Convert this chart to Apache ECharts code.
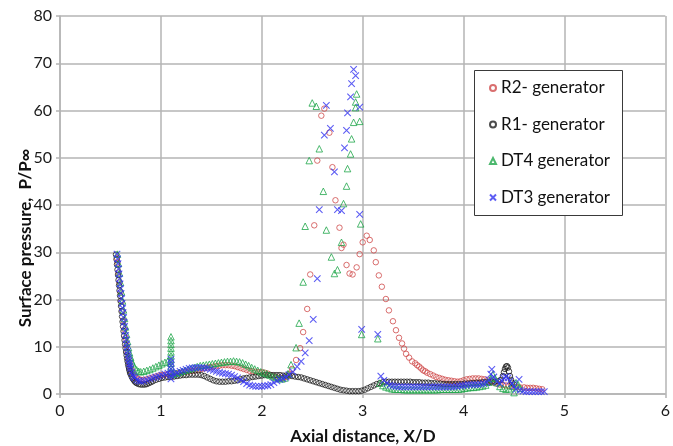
<!DOCTYPE html>
<html>
<head>
<meta charset="utf-8">
<script src="https://cdn.jsdelivr.net/npm/echarts@6/dist/echarts.min.js"></script>
<style>
  html, body { margin: 0; padding: 0; background: #fff; }
  #chart { width: 673px; height: 446px; }
</style>
</head>
<body>
<div id="chart"></div>
<script>
// Surface pressure ratio P/P∞ against axial distance X/D, four inlet generators
const seriesNames = ['R2- generator', 'R1- generator', 'DT4 generator', 'DT3 generator'];
const xTicks = [0, 1, 2, 3, 4, 5, 6];
const yTicks = [0, 10, 20, 30, 40, 50, 60, 70, 80];

const r2 = [
  [0.565,28.8],[0.57,27.8],[0.58,25.7],[0.59,23.6],[0.6,21.5],[0.61,19.5],[0.62,17.5],[0.63,15.6],[0.64,13.7],[0.65,11.9],
  [0.66,10.3],[0.67,8.9],[0.68,7.6],[0.69,6.6],[0.7,5.8],[0.71,5.1],[0.72,4.6],[0.74,3.9],[0.76,3.4],[0.78,3.1],
  [0.8,3.0],[0.83,3.0],[0.86,3.1],[0.89,3.3],[0.92,3.5],[0.95,3.7],[0.98,3.9],[1.01,4.0],[1.04,4.1],[1.07,4.2],
  [1.1,4.3],[1.13,4.3],[1.16,4.4],[1.19,4.5],[1.22,4.6],[1.25,4.7],[1.28,4.8],[1.31,4.9],[1.34,5.0],[1.37,5.1],
  [1.4,5.3],[1.43,5.4],[1.46,5.6],[1.49,5.7],[1.52,5.8],[1.55,5.9],[1.58,6.0],[1.61,6.1],[1.64,6.1],[1.67,6.1],
  [1.7,6.0],[1.73,5.9],[1.76,5.7],[1.79,5.5],[1.82,5.3],[1.85,5.1],[1.88,4.9],[1.91,4.8],[1.94,4.7],[1.97,4.6],
  [2.0,4.6],[2.03,4.5],[2.06,4.3],[2.09,4.0],[2.12,3.7],[2.15,3.5],[2.18,3.4],[2.21,3.4],[2.24,3.6],[2.27,4.2],
  [2.3,5.3],[2.34,7.2],[2.38,9.7],[2.41,13.1],[2.45,18.0],[2.48,25.3],[2.52,35.7],[2.55,49.4],[2.59,58.9],[2.62,60.4],
  [2.67,55.3],[2.7,48.0],[2.73,41.0],[2.77,35.2],[2.79,30.9],[2.81,31.6],[2.84,27.3],[2.87,25.5],[2.9,25.3],[2.94,26.8],
  [2.97,29.6],[3.0,32.1],[3.04,33.5],[3.07,32.6],[3.11,30.4],[3.13,27.9],[3.16,25.1],[3.19,22.7],[3.23,20.1],[3.26,17.7],
  [3.3,15.4],[3.33,13.5],[3.36,11.9],[3.39,10.7],[3.41,9.6],[3.43,8.5],[3.46,7.7],[3.49,6.9],[3.52,6.5],[3.54,6.1],
  [3.56,5.8],[3.58,5.4],[3.6,5.0],[3.62,4.8],[3.64,4.5],[3.67,4.2],[3.7,3.9],[3.73,3.6],[3.76,3.4],[3.79,3.2],
  [3.82,3.0],[3.85,2.9],[3.88,2.8],[3.91,2.7],[3.94,2.6],[3.97,2.7],[4.0,2.9],[4.03,3.1],[4.06,3.2],[4.09,3.3],
  [4.12,3.3],[4.15,3.3],[4.18,3.2],[4.21,3.1],[4.24,2.9],[4.27,2.7],[4.3,2.4],[4.33,2.2],[4.36,2.0],[4.39,1.9],
  [4.42,1.8],[4.45,1.7],[4.48,1.6],[4.52,1.5],[4.56,1.4],[4.6,1.4],[4.63,1.3],[4.66,1.3],[4.69,1.3],[4.72,1.2],
  [4.75,1.1],[4.78,1.0]
];

const r1 = [
  [0.555,29.5],[0.56,28.5],[0.565,27.4],[0.57,26.3],[0.575,25.2],[0.58,24.1],[0.585,23.0],[0.59,21.9],[0.595,20.8],[0.6,19.7],
  [0.605,18.6],[0.61,17.5],[0.615,16.4],[0.62,15.3],[0.625,14.3],[0.63,13.3],[0.635,12.3],[0.64,11.4],[0.645,10.5],[0.65,9.7],
  [0.655,8.9],[0.66,8.2],[0.665,7.5],[0.67,6.9],[0.675,6.3],[0.68,5.8],[0.685,5.3],[0.69,4.9],[0.695,4.5],[0.7,4.2],
  [0.71,3.7],[0.72,3.3],[0.73,3.0],[0.74,2.7],[0.75,2.5],[0.76,2.3],[0.78,2.1],[0.8,2.0],[0.82,2.0],[0.84,2.0],
  [0.86,2.1],[0.88,2.3],[0.9,2.5],[0.92,2.7],[0.95,3.0],[0.98,3.2],[1.01,3.4],[1.04,3.5],[1.07,3.6],[1.1,3.6],
  [1.13,3.7],[1.16,3.8],[1.19,3.9],[1.22,4.0],[1.25,4.0],[1.28,4.1],[1.31,4.1],[1.34,4.1],[1.37,4.1],[1.4,4.0],
  [1.43,3.8],[1.46,3.5],[1.49,3.2],[1.52,2.9],[1.55,2.7],[1.58,2.6],[1.61,2.6],[1.64,2.6],[1.67,2.7],[1.7,2.7],
  [1.73,2.8],[1.76,2.9],[1.79,3.1],[1.82,3.3],[1.85,3.4],[1.88,3.5],[1.91,3.6],[1.94,3.7],[1.97,3.8],[2.0,3.9],
  [2.03,4.0],[2.06,4.0],[2.09,4.0],[2.12,4.0],[2.15,4.0],[2.18,4.0],[2.21,3.9],[2.24,3.9],[2.27,3.9],[2.3,3.8],
  [2.33,3.7],[2.36,3.6],[2.39,3.5],[2.42,3.3],[2.45,3.1],[2.48,2.9],[2.51,2.7],[2.54,2.5],[2.57,2.3],[2.6,2.1],
  [2.63,1.9],[2.66,1.7],[2.69,1.5],[2.72,1.3],[2.75,1.1],[2.78,0.9],[2.81,0.8],[2.84,0.7],[2.87,0.6],[2.9,0.6],
  [2.93,0.6],[2.96,0.6],[2.99,0.7],[3.02,0.9],[3.05,1.2],[3.08,1.5],[3.11,1.8],[3.14,2.1],[3.17,2.3],[3.2,2.5],
  [3.23,2.6],[3.26,2.6],[3.29,2.6],[3.32,2.6],[3.35,2.6],[3.38,2.6],[3.41,2.6],[3.44,2.6],[3.47,2.6],[3.5,2.5],
  [3.53,2.5],[3.56,2.5],[3.59,2.4],[3.62,2.4],[3.65,2.4],[3.68,2.3],[3.71,2.3],[3.74,2.2],[3.77,2.2],[3.8,2.1],
  [3.83,2.1],[3.86,2.1],[3.89,2.1],[3.92,2.1],[3.95,2.1],[3.98,2.1],[4.01,2.2],[4.04,2.2],[4.07,2.3],[4.1,2.3],
  [4.13,2.4],[4.16,2.4],[4.19,2.5],[4.22,2.5],[4.25,2.5],[4.28,2.6],[4.31,2.6],[4.34,2.7],[4.37,3.0],[4.39,3.8],
  [4.4,4.6],[4.41,5.3],[4.42,5.8],[4.43,5.9],[4.44,5.6],[4.45,4.8],[4.46,3.8],[4.47,3.0],[4.48,2.4],[4.5,2.0]
];

const dt4 = [
  [0.57,29.6],[0.58,27.6],[0.59,25.6],[0.6,23.6],[0.61,21.6],[0.62,19.7],[0.63,17.8],[0.64,16.0],[0.65,14.2],[0.66,12.6],
  [0.67,11.1],[0.68,9.8],[0.69,8.7],[0.7,7.8],[0.71,7.0],[0.72,6.4],[0.74,5.6],[0.76,5.1],[0.78,4.8],[0.8,4.7],
  [0.83,4.8],[0.86,5.0],[0.89,5.2],[0.92,5.5],[0.95,5.8],[0.98,6.1],[1.01,6.4],[1.04,6.7],[1.07,7.0],[1.1,7.3],
  [1.1,8.1],[1.1,8.9],[1.1,9.7],[1.1,10.5],[1.1,11.3],[1.1,12.1],[1.1,6.5],[1.1,5.7],[1.1,4.9],[1.12,4.2],
  [1.15,4.4],[1.18,4.6],[1.21,4.8],[1.24,5.0],[1.27,5.2],[1.3,5.4],[1.33,5.6],[1.36,5.8],[1.39,6.0],[1.42,6.1],
  [1.45,6.2],[1.48,6.3],[1.51,6.4],[1.54,6.5],[1.57,6.6],[1.6,6.7],[1.63,6.8],[1.66,6.9],[1.69,6.9],[1.72,7.0],
  [1.75,6.9],[1.78,6.8],[1.81,6.6],[1.84,6.3],[1.87,6.0],[1.9,5.6],[1.93,5.3],[1.96,5.0],[1.99,4.7],[2.02,4.5],
  [2.05,4.3],[2.08,4.0],[2.11,3.7],[2.14,3.5],[2.17,3.3],[2.2,3.2],[2.23,3.4],[2.26,4.3],[2.29,6.2],[2.34,9.8],
  [2.37,15.0],[2.41,23.7],[2.43,35.5],[2.47,49.4],[2.5,61.6],[2.54,60.9],[2.57,51.9],[2.61,42.9],[2.64,34.7],[2.69,29.0],
  [2.72,25.5],[2.75,26.3],[2.79,32.1],[2.81,40.3],[2.84,44.0],[2.85,47.7],[2.88,50.8],[2.89,54.0],[2.91,57.5],[2.93,60.6],
  [2.93,61.8],[2.94,63.5],[2.97,57.7],[2.98,36.0],[2.99,12.6],[3.15,11.7],[3.17,2.3],[3.2,1.8],[3.23,1.5],[3.26,1.3],
  [3.29,1.1],[3.32,1.0],[3.35,1.0],[3.38,1.0],[3.41,0.9],[3.44,0.9],[3.47,0.9],[3.5,0.9],[3.53,0.9],[3.56,0.9],
  [3.59,0.9],[3.62,0.9],[3.65,0.9],[3.68,0.9],[3.71,0.9],[3.74,0.9],[3.77,1.0],[3.8,1.0],[3.83,1.0],[3.86,1.0],
  [3.89,1.0],[3.92,1.0],[3.95,1.0],[3.98,1.1],[4.01,1.2],[4.04,1.3],[4.07,1.4],[4.1,1.4],[4.13,1.5],[4.16,1.6],
  [4.19,1.7],[4.22,1.9],[4.25,2.5],[4.27,3.3],[4.29,4.1],[4.31,3.4],[4.33,2.4],[4.36,1.6],[4.39,1.2],[4.42,1.0],
  [4.45,1.1],[4.48,1.6],[4.5,0.3],[4.52,2.4],[4.54,2.0],[4.56,1.2]
];

const dt3 = [
  [0.565,29.6],[0.57,28.6],[0.575,27.6],[0.58,26.5],[0.585,25.4],[0.59,24.4],[0.595,23.3],[0.6,22.3],[0.605,21.3],[0.61,20.2],
  [0.615,19.2],[0.62,18.2],[0.625,17.2],[0.63,16.2],[0.635,15.2],[0.64,14.3],[0.645,13.3],[0.65,12.4],[0.655,11.5],[0.66,10.6],
  [0.665,9.8],[0.67,9.0],[0.675,8.3],[0.68,7.6],[0.685,7.0],[0.69,6.4],[0.695,5.9],[0.7,5.4],[0.71,4.7],[0.72,4.1],
  [0.73,3.7],[0.74,3.4],[0.76,3.0],[0.78,2.8],[0.8,2.7],[0.83,2.8],[0.86,3.0],[0.89,3.2],[0.92,3.4],[0.95,3.6],
  [0.98,3.8],[1.01,4.0],[1.04,4.2],[1.07,4.4],[1.1,4.6],[1.1,5.3],[1.1,6.0],[1.1,6.7],[1.1,7.4],[1.1,3.9],
  [1.1,3.2],[1.13,4.2],[1.16,4.5],[1.19,4.8],[1.22,5.0],[1.25,5.2],[1.28,5.4],[1.31,5.5],[1.34,5.6],[1.37,5.6],
  [1.4,5.6],[1.43,5.5],[1.46,5.4],[1.49,5.2],[1.52,5.0],[1.55,4.8],[1.58,4.6],[1.61,4.4],[1.64,4.3],[1.67,4.2],
  [1.7,4.0],[1.73,3.7],[1.76,3.4],[1.79,3.0],[1.82,2.6],[1.85,2.2],[1.88,1.9],[1.91,1.7],[1.94,1.6],[1.97,1.6],
  [2.0,1.6],[2.03,1.7],[2.06,1.8],[2.09,2.0],[2.12,2.4],[2.15,2.8],[2.18,3.1],[2.21,3.3],[2.24,3.6],[2.27,4.1],
  [2.31,4.7],[2.35,5.8],[2.39,6.9],[2.43,8.7],[2.47,11.3],[2.51,15.8],[2.55,24.4],[2.57,39.0],[2.62,54.8],[2.64,61.1],
  [2.68,56.2],[2.72,47.0],[2.75,39.0],[2.79,38.8],[2.82,52.1],[2.84,55.8],[2.85,59.5],[2.88,62.9],[2.89,65.7],[2.91,68.7],
  [2.93,67.4],[2.97,60.7],[2.97,38.0],[2.99,13.7],[3.15,12.6],[3.18,3.8],[3.21,2.9],[3.24,2.3],[3.27,1.9],[3.3,1.7],
  [3.33,1.6],[3.36,1.5],[3.39,1.5],[3.42,1.5],[3.45,1.5],[3.48,1.5],[3.51,1.5],[3.54,1.5],[3.57,1.5],[3.6,1.5],
  [3.63,1.5],[3.66,1.5],[3.69,1.5],[3.72,1.5],[3.75,1.5],[3.78,1.5],[3.81,1.5],[3.84,1.5],[3.87,1.5],[3.9,1.5],
  [3.93,1.6],[3.96,1.7],[3.99,1.8],[4.02,1.9],[4.05,2.0],[4.08,2.0],[4.11,2.0],[4.14,2.0],[4.17,2.1],[4.2,2.2],
  [4.23,2.4],[4.25,3.0],[4.27,4.2],[4.28,5.2],[4.3,3.6],[4.33,2.6],[4.36,2.2],[4.38,2.8],[4.4,3.4],[4.42,3.7],
  [4.44,3.4],[4.46,2.8],[4.48,2.2],[4.5,1.6],[4.52,1.0],[4.55,3.1],[4.56,0.8],[4.59,0.6],[4.62,0.5],[4.65,0.5],
  [4.68,0.5],[4.71,0.5],[4.74,0.5],[4.77,0.5],[4.8,0.5]
];

const FONT = 'Lato, "Open Sans", sans-serif';
const GRID_COLOR = '#b4b4b4';

const chart = echarts.init(document.getElementById('chart'), null, { renderer: 'canvas' });

function openMarker(name, data, symbol, size, color, width) {
  return {
    name: name,
    type: 'scatter',
    data: data,
    symbol: symbol,
    symbolSize: size,
    itemStyle: { color: 'rgba(0,0,0,0)', borderColor: color, borderWidth: width },
    emphasis: { disabled: true },
    silent: true
  };
}

chart.setOption({
  animation: false,
  backgroundColor: '#fff',
  grid: { left: 60, right: 6, top: 16, bottom: 52, containLabel: false },
  xAxis: {
    type: 'value',
    min: xTicks[0], max: xTicks[xTicks.length - 1], interval: 1,
    axisLine: { show: true, lineStyle: { color: GRID_COLOR, width: 1.5 } },
    axisTick: { show: true, length: 4, lineStyle: { color: GRID_COLOR, width: 1.5 } },
    splitLine: { show: true, lineStyle: { color: GRID_COLOR, width: 1.5 } },
    axisLabel: { fontSize: 16, color: '#1a1a1a', fontFamily: FONT, margin: 9 }
  },
  yAxis: {
    type: 'value',
    min: yTicks[0], max: yTicks[yTicks.length - 1], interval: 10,
    axisLine: { show: true, lineStyle: { color: GRID_COLOR, width: 1.5 } },
    axisTick: { show: true, length: 4, lineStyle: { color: GRID_COLOR, width: 1.5 } },
    splitLine: { show: true, lineStyle: { color: GRID_COLOR, width: 1.5 } },
    axisLabel: { fontSize: 16, color: '#1a1a1a', fontFamily: FONT, margin: 8 }
  },
  legend: {
    orient: 'vertical',
    left: 489, top: 79,
    padding: 0,
    itemWidth: 6, itemHeight: 6,
    itemGap: 18.5,
    z: 20,
    selectedMode: false,
    textStyle: { fontSize: 17, lineHeight: 18, fontFamily: FONT, color: '#111' },
    data: seriesNames
  },
  graphic: [
    {
      type: 'rect', z: 10,
      shape: { x: 474.5, y: 70.5, width: 148, height: 145 },
      style: { fill: '#fff', stroke: '#3a3a3a', lineWidth: 1 }
    },
    {
      type: 'text', x: 363, y: 437, z: 10,
      style: { text: 'Axial distance, X/D', font: 'bold 17px ' + FONT, fill: '#111', align: 'center', verticalAlign: 'middle' }
    },
    {
      type: 'text', x: 26, y: 238, rotation: Math.PI / 2, z: 10,
      style: { text: 'Surface pressure,  P/P∞', font: 'bold 17px ' + FONT, fill: '#111', align: 'center', verticalAlign: 'middle' }
    }
  ],
  series: [
    openMarker(seriesNames[0], r2, 'circle', 5.5, '#cf4b4b', 1),
    openMarker(seriesNames[1], r1, 'circle', 5.5, '#1e1e1e', 1),
    openMarker(seriesNames[2], dt4, 'triangle', 6.5, '#1fa64a', 1),
    openMarker(seriesNames[3], dt3, 'path://M0,0L10,10M10,0L0,10', 6.5, '#3535f0', 1.1)
  ]
});
</script>
</body>
</html>
